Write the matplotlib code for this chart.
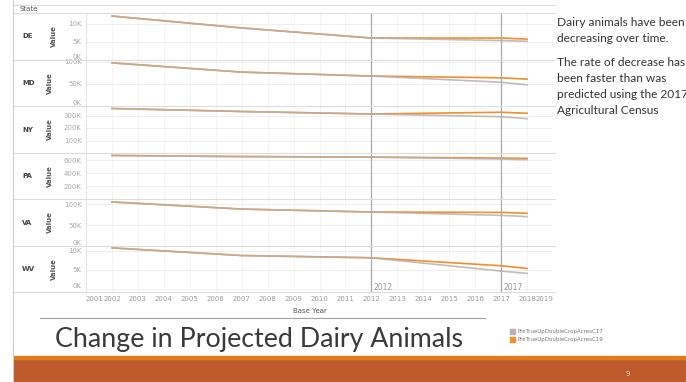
import matplotlib.pyplot as plt
from matplotlib.patches import Rectangle
from matplotlib.lines import Line2D

# ── Data (values in thousands) ──────────────────
states = ["DE", "MD", "NY", "PA", "VA", "WV"]
years = [2002, 2007, 2012, 2017, 2018]
c17 = [
    [12.2, 8.9, 6.1, 5.4, 5.2],
    [98, 77, 68, 54, 48],
    [356, 332, 312, 290, 275],
    [670, 653, 645, 615, 605],
    [105, 88, 81, 73, 70],
    [10.8, 8.8, 8.2, 4.7, 4.1],
]
c19 = [
    [12.2, 8.9, 6.1, 6.1, 5.8],
    [98, 77, 68, 64, 61],
    [356, 332, 312, 326, 318],
    [670, 653, 645, 630, 625],
    [105, 88, 81, 80, 78],
    [10.8, 8.8, 8.2, 6.1, 5.4],
]
yticks = [[0, 5, 10], [0, 50, 100], [100, 200, 300], [200, 400, 600], [0, 50, 100], [0, 5, 10]]
ylims = [(0, 13.05), (0, 104.5), (0, 376), (0, 708), (0, 112), (-0.8, 11.3)]
ref_years = [2012, 2017]
legend_names = ["PreTrueUpDoubleCropAcresC17", "PreTrueUpDoubleCropAcresC19"]

W, H = 686, 382
GRAY, ORANGE = "#BAB0AC", "#F28E2B"
SEP = "#dddddd"


def px(x0, y0, x1, y1):
    return [x0 / W, 1 - y1 / H, (x1 - x0) / W, (y1 - y0) / H]


def fx(x):
    return x / W


def fy(y):
    return 1 - y / H


fig = plt.figure(figsize=(W / 100, H / 100), dpi=100)
fig.patch.set_facecolor("white")

# ── Panels ─────────────────────────────────────
bounds = [13, 60, 106, 153, 199, 246, 292]
for i, st in enumerate(states):
    ax = fig.add_axes(px(86, bounds[i], 553, bounds[i + 1]))
    ax.set_xlim(2001, 2019)
    ax.set_ylim(*ylims[i])
    ax.plot(years, c19[i], color=ORANGE, lw=1.2, zorder=3)
    ax.plot(years, c17[i], color=GRAY, lw=1.2, alpha=0.85, zorder=4)
    for ry in ref_years:
        ax.axvline(ry, color="#a8a8a8", lw=0.9, zorder=5)
    ax.set_yticks(yticks[i])
    ylab = ax.set_yticklabels([f"{v}K" for v in yticks[i]], fontsize=5, color="#aaaaaa")
    for v, t in zip(yticks[i], ylab):
        if v == 0:
            t.set_va("bottom")
    ax.set_xticks(range(2001, 2020))
    ax.tick_params(length=0, pad=3)
    ax.grid(axis="x", color="#f2f2f2", lw=0.6)
    ax.grid(axis="y", color="#ececec", lw=0.6)
    ax.set_axisbelow(True)
    for s in ax.spines.values():
        s.set_visible(False)
    ax.spines["left"].set_visible(True)
    ax.spines["left"].set_color("#e6e6e6")
    ax.set_ylabel("Value", fontsize=5, color="#555555", fontweight="bold", labelpad=8)
    if i < len(states) - 1:
        ax.set_xticklabels([])
    else:
        labels = ax.set_xticklabels([str(y) for y in range(2001, 2020)], fontsize=5, color="#999999")
        labels[0].set_ha("left")
        labels[-1].set_ha("right")
        ax.tick_params(axis="x", pad=3)
        for ry in ref_years:
            ax.text(ry + 0.1, 0.4, str(ry), fontsize=5.5, color="#999999", va="center")
    fig.text(fx(22), fy((bounds[i] + bounds[i + 1]) / 2), st, fontsize=5,
             fontweight="bold", color="#444444", va="center")

# separators
for y in bounds:
    fig.add_artist(Line2D([fx(14), fx(555)], [fy(y), fy(y)], color=SEP, lw=0.8))
fig.add_artist(Line2D([fx(14), fx(555)], [fy(5), fy(5)], color=SEP, lw=0.8))
fig.text(fx(20), fy(9), "State", fontsize=5, color="#555555", va="center")
fig.text(fx(310), fy(311), "Base Year", fontsize=5, color="#555555", ha="center", va="center")

# slide frame / rule
fig.add_artist(Line2D([fx(13), fx(13)], [0, 1], color="#cccccc", lw=0.8))
fig.add_artist(Line2D([fx(40), fx(485)], [fy(318), fy(318)], color="#a0a0a0", lw=0.8))

# ── Right-hand notes ───────────────────────────
note_font = dict(fontsize=8.6, color="#333333", family="Lato")
fig.text(fx(557), fy(22), "Dairy animals have been", va="center", **note_font)
fig.text(fx(557), fy(38), "decreasing over time.", va="center", **note_font)
fig.text(fx(557), fy(62), "The rate of decrease has", va="center", **note_font)
fig.text(fx(557), fy(78), "been faster than was", va="center", **note_font)
fig.text(fx(557), fy(94), "predicted using the 2017", va="center", **note_font)
fig.text(fx(557), fy(110), "Agricultural Census", va="center", **note_font)

# ── Title & legend ─────────────────────────────
fig.text(fx(55), fy(340), "Change in Projected Dairy Animals", fontsize=19.3,
         family="Lato", color="#3a3a3a", va="center")
for k, (name, col) in enumerate(zip(legend_names, [GRAY, ORANGE])):
    yy = 331 + k * 8
    fig.add_artist(Rectangle((fx(510), fy(yy + 2.5)), 5 / W, 5 / H, color=col))
    fig.text(fx(518), fy(yy), name, fontsize=4, color="#777777", va="center")

# ── Bottom bar ─────────────────────────────────
fig.add_artist(Rectangle((fx(14), 0), 1 - fx(14), fy(359), color="#BE5A2C"))
fig.add_artist(Rectangle((fx(14), fy(359)), 1 - fx(14), 3 / H, color="#E07B1B"))
fig.text(fx(628), fy(374), "9", fontsize=5, color="#f3d9c8", ha="center", va="center")

plt.savefig("out.png", dpi=100)
